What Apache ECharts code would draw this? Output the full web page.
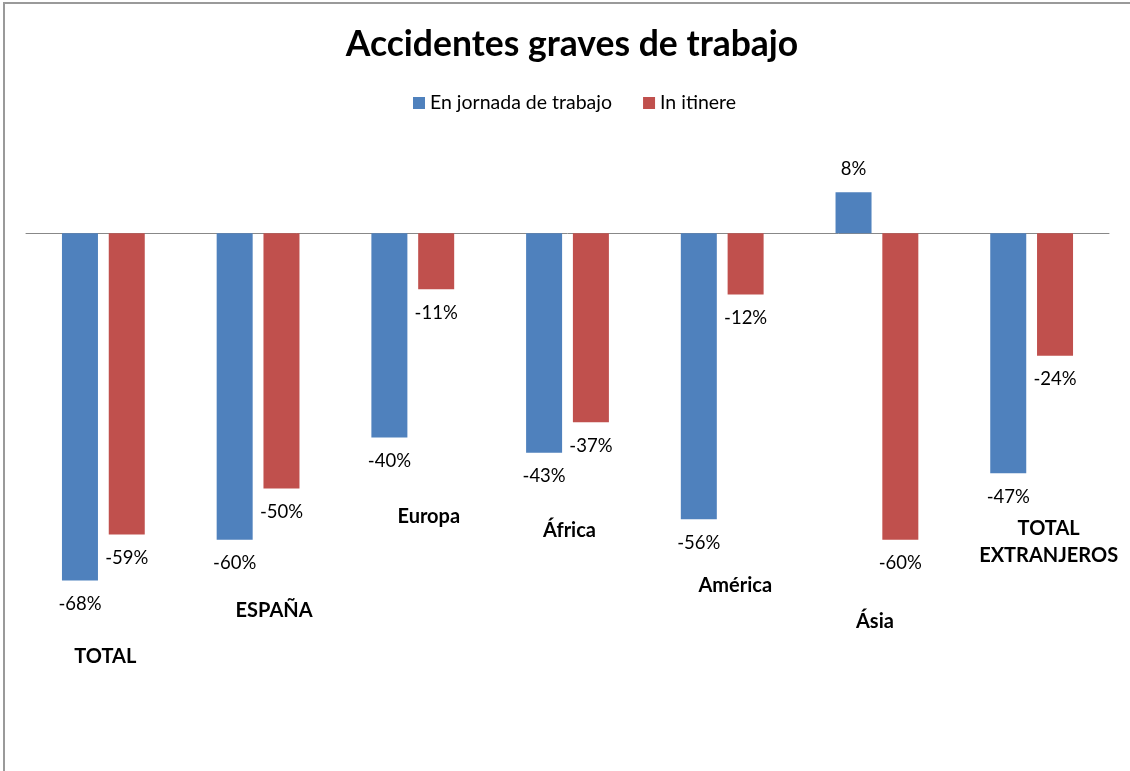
<!DOCTYPE html>
<html>
<head>
<meta charset="utf-8">
<script src="https://cdn.jsdelivr.net/npm/echarts@6/dist/echarts.min.js"></script>
<style>
html,body{margin:0;padding:0;background:#fff;}
#chart{width:1130px;height:771px;}
</style>
</head>
<body>
<div id="chart"></div>
<script>
// ---- data ----
const categories = ['TOTAL', 'ESPAÑA', 'Europa', 'África', 'América', 'Ásia', 'TOTAL\nEXTRANJEROS'];
const seriesNames = ['En jornada de trabajo', 'In itinere'];
const jornada = [-68, -60, -40, -43, -56, 8, -47];
const itinere = [-59, -50, -11, -37, -12, -60, -24];

// ---- layout (pixel offsets of the category labels below the lowest bar) ----
const catLabelDx = [2, 16, 16, 2, 13, -2, 17];
const catLabelDy = [76, 71, 79, 78, 66, 82, 69];

const FONT = 'Lato';
const colors = ['#4F81BD', '#C0504D'];

function barData(arr) {
  return arr.map(v => ({
    value: v,
    label: { position: v < 0 ? 'bottom' : 'top' }
  }));
}

const catLabelData = categories.map((c, i) => ({
  value: [i, Math.min(jornada[i], itinere[i], 0)],
  label: { offset: [catLabelDx[i], catLabelDy[i]] }
}));

const chart = echarts.init(document.getElementById('chart'));
chart.setOption({
  animation: false,
  backgroundColor: '#fff',
  color: colors,
  title: {
    text: 'Accidentes graves de trabajo',
    left: 567,
    textAlign: 'center',
    top: 22,
    textStyle: { fontFamily: FONT, fontWeight: 'bold', fontSize: 35.5, color: '#000' }
  },
  legend: {
    data: seriesNames,
    left: 408,
    top: 88,
    icon: 'rect',
    itemWidth: 12,
    itemHeight: 12,
    itemGap: 31,
    textStyle: { fontFamily: FONT, fontSize: 19.5, color: '#000' }
  },
  graphic: [{
    type: 'rect',
    shape: { x: 4, y: 3, width: 1300, height: 1000 },
    style: { fill: 'none', stroke: '#9a9a9a', lineWidth: 2 },
    silent: true
  }],
  grid: { left: 26, right: 21, top: 131, height: 613, containLabel: false },
  xAxis: {
    type: 'category',
    data: categories,
    axisLine: { show: true, onZero: true, lineStyle: { color: '#888', width: 1 } },
    axisTick: { show: false },
    axisLabel: { show: false },
    splitLine: { show: false }
  },
  yAxis: {
    type: 'value',
    min: -100,
    max: 20,
    interval: 20,
    show: false,
    splitLine: { show: false }
  },
  series: [
    {
      name: seriesNames[0],
      type: 'bar',
      data: barData(jornada),
      barWidth: 36,
      barGap: '30%',
      itemStyle: { color: colors[0] },
      label: {
        show: true, distance: 14,
        formatter: p => p.value + '%',
        fontFamily: FONT, fontSize: 18.5, color: '#000'
      }
    },
    {
      name: seriesNames[1],
      type: 'bar',
      data: barData(itinere),
      barWidth: 36,
      barGap: '30%',
      itemStyle: { color: colors[1] },
      label: {
        show: true, distance: 14,
        formatter: p => p.value + '%',
        fontFamily: FONT, fontSize: 18.5, color: '#000'
      }
    },
    {
      name: 'categorias',
      type: 'scatter',
      data: catLabelData,
      symbolSize: 1,
      itemStyle: { color: 'rgba(0,0,0,0)', opacity: 1 },
      silent: true,
      label: {
        show: true,
        position: 'inside',
        formatter: p => categories[p.dataIndex],
        fontFamily: FONT, fontWeight: 'bold', fontSize: 20, color: '#000',
        textBorderWidth: 0, textBorderColor: 'transparent',
        lineHeight: 27, align: 'center'
      }
    }
  ]
});
</script>
</body>
</html>
